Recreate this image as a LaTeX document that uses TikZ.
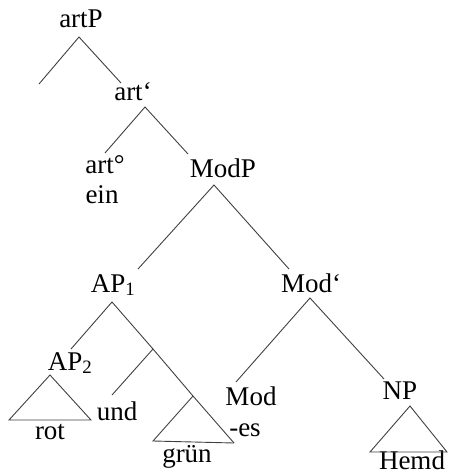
\documentclass[tikz,border=0pt]{standalone}
\usepackage{fontspec}
\setmainfont{Liberation Serif}
\begin{document}
\begin{tikzpicture}[x=1pt,y=-1pt,
  lbl/.style={anchor=base,inner sep=0pt,font=\fontsize{27}{32}\selectfont},
  edge/.style={draw=black!75,line width=0.9pt}]
\useasboundingbox (0,0) rectangle (448,474);
% labels
\node[lbl] (artP) at (81,27) {artP};
\node[lbl] (artbar) at (133,100) {art‘};
\node[lbl] (artdeg) at (105,173) {art°};
\node[lbl] (ein) at (102,203) {ein};
\node[lbl] (ModP) at (223,177) {ModP};
\node[lbl] (AP1) at (113,292) {AP\textsubscript{1}};
\node[lbl] (AP2) at (70,370) {AP\textsubscript{2}};
\node[lbl] (rot) at (50,439) {rot};
\node[lbl] (und) at (117,420) {und};
\node[lbl] (gruen) at (187,462) {grün};
\node[lbl] (Modbar) at (311,292) {Mod‘};
\node[lbl] (Mod) at (251,405) {Mod};
\node[lbl] (es) at (245,436) {-es};
\node[lbl] (NP) at (400,399) {NP};
\node[lbl] (Hemd) at (412,469) {Hemd};
% tree points
\coordinate (aP) at (79,37);
\coordinate (aPl) at (39,84);
\coordinate (aPr) at (121,83);
\coordinate (ab) at (145,107);
\coordinate (abl) at (105,153);
\coordinate (abr) at (188,154);
\coordinate (mP) at (214,185);
\coordinate (mPl) at (138,269);
\coordinate (mPr) at (289,269);
\coordinate (a1) at (112,302);
\coordinate (a1l) at (71,349);
\coordinate (x) at (153,349);
\coordinate (xl) at (112,395);
\coordinate (gT) at (193,396);
\coordinate (gL) at (153,441);
\coordinate (gR) at (234,443);
\coordinate (a2T) at (50,375);
\coordinate (a2L) at (9,420);
\coordinate (a2R) at (91,420);
\coordinate (mb) at (310,298);
\coordinate (mbl) at (236,382);
\coordinate (mbr) at (384,379);
\coordinate (nT) at (410,406);
\coordinate (nL) at (370,452);
\coordinate (nR) at (447,452);
% edges
\draw[edge] (aPl) -- (aP) -- (aPr);
\draw[edge] (abl) -- (ab) -- (abr);
\draw[edge] (mPl) -- (mP) -- (mPr);
\draw[edge] (a1l) -- (a1) -- (x) -- (gT) -- (gR);
\draw[edge] (x) -- (xl);
\draw[edge] (gT) -- (gL) -- (gR);
\draw[edge] (a2T) -- (a2L) -- (a2R) -- cycle;
\draw[edge] (mbl) -- (mb) -- (mbr);
\draw[edge] (nT) -- (nL) -- (nR) -- cycle;
\end{tikzpicture}
\end{document}
